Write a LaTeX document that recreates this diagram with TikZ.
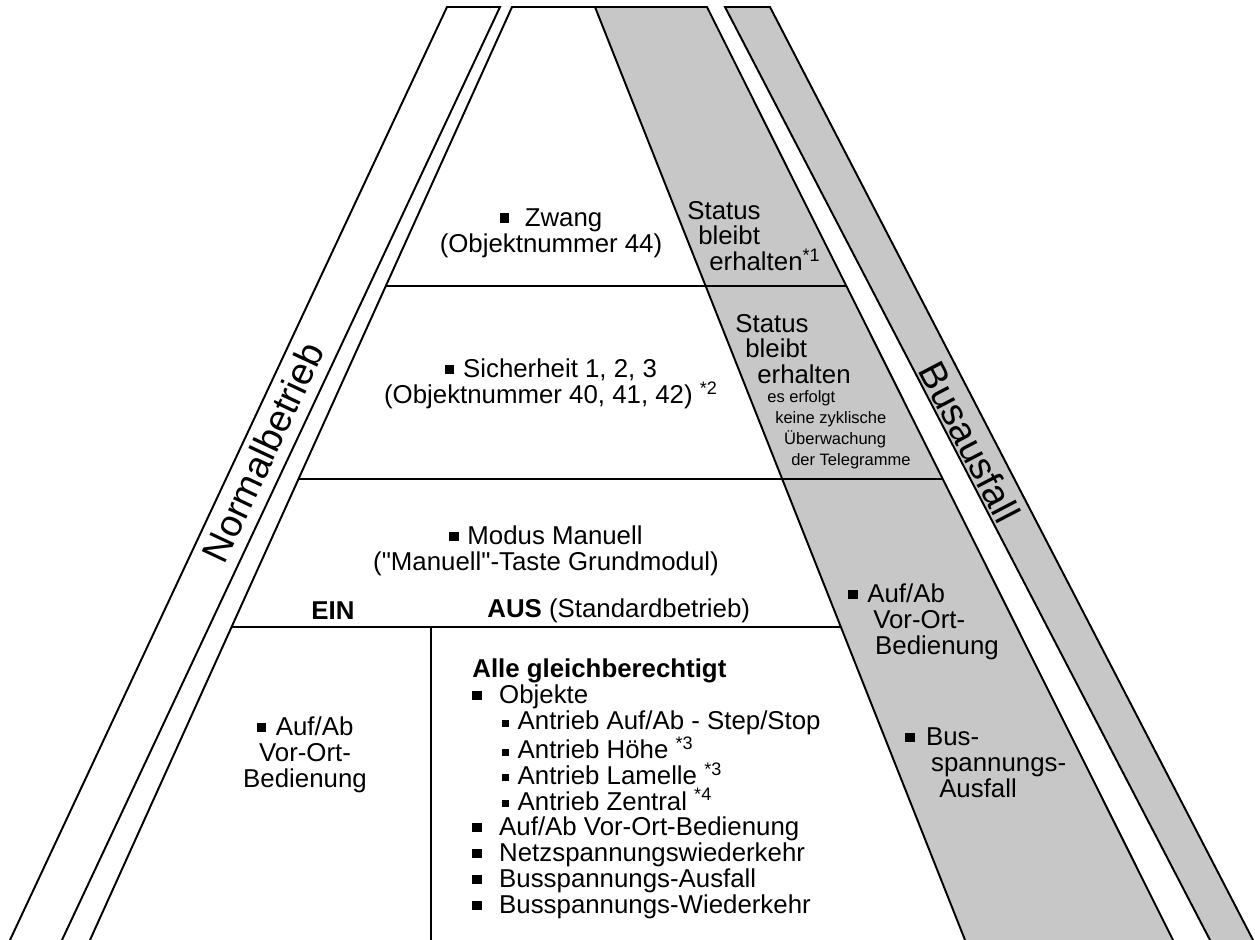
\documentclass[tikz,border=0pt]{standalone}
\usepackage{fontspec}
\setmainfont{Liberation Sans}
\usetikzlibrary{calc}

\definecolor{failgray}{RGB}{199,199,199}
\newcommand{\bsq}{\rule[2.0pt]{5.3pt}{5.3pt}}
\newcommand{\ssq}{\rule[1.7pt]{3.9pt}{3.9pt}}

\tikzset{
  rim/.style={line width=1.1pt, line join=miter},
  divider/.style={line width=1.5pt},
  txt/.style={font=\fontsize{14.7}{14.7}\selectfont, inner sep=0pt},
  tinytxt/.style={font=\fontsize{9.4}{11.9}\selectfont, inner sep=0pt, align=left},
  bandlabel/.style={font=\fontsize{21.5}{24}\selectfont, inner sep=0pt},
}

\begin{document}
\begin{tikzpicture}[x=0.02cm, y=-0.02cm]
  \useasboundingbox (0,0) rectangle (1255,940);
  \clip (0,0) rectangle (1255,940);

  % Corner points of the bands and the pyramid
  \coordinate (nt1) at (447,7);   \coordinate (nb1) at (10,940);
  \coordinate (nt2) at (500,7);   \coordinate (nb2) at (62,940);
  \coordinate (pt1) at (512,7);   \coordinate (pb1) at (90,940);
  \coordinate (pt2) at (595,7);   \coordinate (pb2) at (965,940);
  \coordinate (pt3) at (707,7);   \coordinate (pb3) at (1173,940);
  \coordinate (bt1) at (725,7);   \coordinate (bb1) at (1210,940);
  \coordinate (bt2) at (770,7);   \coordinate (bb2) at (1253,940);

  % Ends of the level lines
  \coordinate (d1l) at ($(pt1)!0.2990!(pb1)$); \coordinate (d1r) at ($(pt3)!0.2990!(pb3)$);
  \coordinate (d2l) at ($(pt1)!0.5059!(pb1)$); \coordinate (d2r) at ($(pt3)!0.5059!(pb3)$);
  \coordinate (d3l) at ($(pt1)!0.6645!(pb1)$); \coordinate (d3r) at ($(pt2)!0.6645!(pb2)$);
  \coordinate (v1) at (431,627);  \coordinate (v2) at (431,940);

  % Grey areas
  \fill[failgray] (pt2) -- (pt3) -- (pb3) -- (pb2) -- cycle;
  \fill[failgray] (bt1) -- (bt2) -- (bb2) -- (bb1) -- cycle;

  % Bands and pyramid
  \draw[rim] (nb1) -- (nt1) -- (nt2) -- (nb2);
  \draw[rim] (pb1) -- (pt1) -- (pt3) -- (pb3);
  \draw[rim] (pt2) -- (pb2);
  \draw[rim] (bb1) -- (bt1) -- (bt2) -- (bb2);

  % Levels
  \draw[divider] (d1l) -- (d1r);
  \draw[divider] (d2l) -- (d2r);
  \draw[divider] (d3l) -- (d3r);
  \draw[divider] (v1) -- (v2);

  % Band labels
  \node[bandlabel, rotate=64.8] (normal) at (263,452) {Normalbetrieb};
  \node[bandlabel, rotate=-62.5] (busfail) at (970,442) {Busausfall};

  % Pyramid texts
  \node[txt, align=center] (zwang) at (551,233) {\bsq\hspace{9pt}Zwang\\(Objektnummer 44)};
  \node[txt, align=left, anchor=west] (stat1) at (687,236)
    {Status\\\hspace*{6.2pt}bleibt\\\hspace*{12.5pt}erhalten\textsuperscript{*1}};
  \node[txt, align=center] (sicher) at (551,384)
    {\bsq\hspace{5pt}Sicherheit 1, 2, 3\\(Objektnummer 40, 41, 42) \textsuperscript{*2}};
  \node[txt, align=left, anchor=west] (stat2) at (735,349)
    {Status\\\hspace*{5.7pt}bleibt\\\hspace*{12.5pt}erhalten};
  \node[tinytxt, anchor=west] (stat2b) at (767,430)
    {es erfolgt\\\hspace*{4.5pt}keine zyklische\\\hspace*{9.6pt}Überwachung\\\hspace*{13.6pt}der Telegramme};
  \node[txt, align=center] (modus) at (546,551)
    {\bsq\hspace{5pt}Modus Manuell\\(\textquotedbl Manuell\textquotedbl-Taste Grundmodul)};
  \node[txt] (ein) at (333,611) {\textbf{EIN}};
  \node[txt, anchor=west] (aus) at (487,611) {\textbf{AUS} (Standardbetrieb)};

  % Bottom texts
  \node[txt, align=center] (aufab1) at (305,755) {\bsq\hspace{5.7pt}Auf/Ab\\Vor-Ort-\\Bedienung};
  \node[txt, align=left, anchor=west] (alle) at (472,789)
    {\textbf{Alle gleichberechtigt}\\
     \bsq\hspace{10pt}Objekte\\
     \hspace*{17pt}\ssq\hspace{4.9pt}Antrieb Auf/Ab - Step/Stop\\
     \hspace*{17pt}\ssq\hspace{4.9pt}Antrieb Höhe \textsuperscript{*3}\\
     \hspace*{17pt}\ssq\hspace{4.9pt}Antrieb Lamelle \textsuperscript{*3}\\
     \hspace*{17pt}\ssq\hspace{4.9pt}Antrieb Zentral \textsuperscript{*4}\\
     \bsq\hspace{10pt}Auf/Ab Vor-Ort-Bedienung\\
     \bsq\hspace{10pt}Netzspannungswiederkehr\\
     \bsq\hspace{10pt}Busspannungs-Ausfall\\
     \bsq\hspace{10pt}Busspannungs-Wiederkehr};

  % Grey area texts
  \node[txt, align=left, anchor=west] (aufab2) at (848,622)
    {\bsq\hspace{5.5pt}Auf/Ab\\\hspace*{14.2pt}Vor-Ort-\\\hspace*{15.3pt}Bedienung};
  \node[txt, align=left, anchor=west] (busaus) at (905,763)
    {\bsq\hspace{6.5pt}Bus-\\\hspace*{14.7pt}spannungs-\\\hspace*{19.3pt}Ausfall};
\end{tikzpicture}
\end{document}
